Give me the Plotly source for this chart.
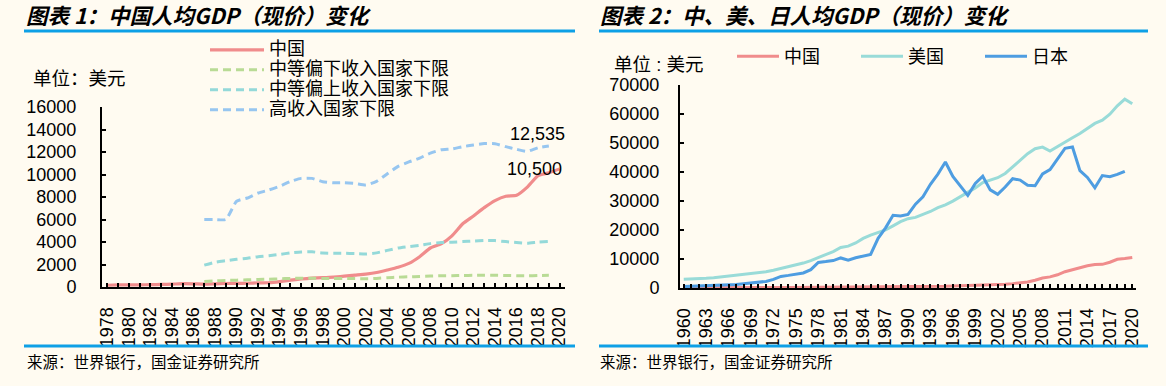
import plotly.graph_objects as go

# ---------------- data ----------------
years1 = list(range(1978, 2021))
china1 = [156, 184, 195, 197, 203, 225, 251, 294, 282, 252, 284, 311, 318, 333, 368, 377,
          473, 610, 709, 782, 829, 873, 959, 1053, 1149, 1289, 1509, 1753, 2099, 2694, 3468,
          3832, 4550, 5618, 6317, 7051, 7679, 8067, 8148, 8879, 9905, 10144, 10500]
thr_years = list(range(1987, 2020))
lower_mid = [480, 545, 580, 610, 635, 675, 695, 725, 765, 785, 785, 760, 755, 755, 745, 735,
             765, 825, 875, 905, 935, 975, 995, 1005, 1025, 1035, 1045, 1045, 1025, 1005, 995,
             1025, 1035]
upper_mid = [1940, 2200, 2335, 2465, 2555, 2695, 2785, 2895, 3035, 3115, 3125, 3030, 2995, 2995,
             2975, 2935, 3035, 3255, 3465, 3595, 3705, 3855, 3945, 3975, 4035, 4085, 4125, 4125,
             4035, 3955, 3895, 3995, 4045]
high_inc = [6000, 6000, 6000, 7620, 7910, 8355, 8625, 8955, 9385, 9655, 9655, 9360, 9265, 9265,
            9205, 9075, 9385, 10065, 10725, 11115, 11455, 11905, 12195, 12275, 12475, 12615,
            12745, 12735, 12475, 12235, 12055, 12375, 12535]

years2 = list(range(1960, 2021))
china2 = [90, 76, 70, 74, 85, 98, 104, 97, 91, 100, 113, 119, 132, 157, 160, 178, 165, 185,
          156, 184, 195, 197, 203, 225, 251, 294, 282, 252, 284, 311, 318, 333, 368, 377, 473,
          610, 709, 782, 829, 873, 959, 1053, 1149, 1289, 1509, 1753, 2099, 2694, 3468, 3832,
          4550, 5618, 6317, 7051, 7679, 8067, 8148, 8879, 9905, 10144, 10500]
usa2 = [3007, 3067, 3244, 3375, 3574, 3828, 4146, 4336, 4696, 5032, 5234, 5609, 6094, 6726,
        7226, 7801, 8592, 9453, 10565, 11674, 12575, 13976, 14434, 15544, 17121, 18237, 19071,
        20039, 21417, 22857, 23889, 24342, 25419, 26387, 27695, 28691, 29968, 31459, 32854,
        34515, 36330, 37134, 38023, 39497, 41712, 44115, 46299, 48050, 48570, 47195, 48651,
        50066, 51784, 53291, 55124, 56763, 57867, 59915, 62805, 65095, 63544]
japan2 = [479, 563, 634, 717, 835, 919, 1058, 1229, 1451, 1669, 2037, 2272, 2967, 3997, 4354,
          4659, 5198, 6335, 8821, 9105, 9463, 10361, 9578, 10425, 10984, 11585, 17112, 20745,
          25051, 24813, 25359, 28925, 31465, 35766, 39269, 43440, 38437, 35022, 31903, 36027,
          38532, 33846, 32289, 34808, 37689, 37218, 35434, 35275, 39339, 40855, 44508, 48168,
          48603, 40454, 38109, 34524, 38761, 38387, 39159, 40247, None]

names1 = ["中国", "中等偏下收入国家下限", "中等偏上收入国家下限", "高收入国家下限"]
names2 = ["中国", "美国", "日本"]
title1 = "图表 1：中国人均GDP（现价）变化"
title2 = "图表 2：中、美、日人均GDP（现价）变化"
source_txt = "来源：世界银行，国金证券研究所"
unit1 = "单位：美元"
unit2 = "单位 : 美元"

# ---------------- style ----------------
W, H = 1166, 386
BG = "#FFFBF1"
FONT = "Liberation Sans, Arial, Noto Sans CJK SC, sans-serif"
CJK = "Noto Sans CJK SC, sans-serif"
C_CN = "#F08C8C"
C_LM = "#B9DB95"
C_UM = "#94D9D9"
C_HI = "#97C6F0"
C_US = "#99DBD8"
C_JP = "#4E9DE1"
BLUE = "#0EA0E6"


def px(x):
    return x / W


def py(y):
    return 1 - y / H


def lname(s):
    return '<span style="font-size:18px">' + s + '</span>'


fig = go.Figure()

dash = "8px,5px"
fig.add_trace(go.Scatter(x=years1, y=china1, name=lname(names1[0]), mode="lines",
                         line=dict(color=C_CN, width=3.2, shape="spline", smoothing=0.5),
                         xaxis="x", yaxis="y", legend="legend"))
fig.add_trace(go.Scatter(x=thr_years, y=lower_mid, name=lname(names1[1]), mode="lines",
                         line=dict(color=C_LM, width=3, dash=dash, shape="spline", smoothing=0.5),
                         xaxis="x", yaxis="y", legend="legend"))
fig.add_trace(go.Scatter(x=thr_years, y=upper_mid, name=lname(names1[2]), mode="lines",
                         line=dict(color=C_UM, width=3, dash=dash, shape="spline", smoothing=0.5),
                         xaxis="x", yaxis="y", legend="legend"))
fig.add_trace(go.Scatter(x=thr_years, y=high_inc, name=lname(names1[3]), mode="lines",
                         line=dict(color=C_HI, width=3, dash=dash, shape="spline", smoothing=0.5),
                         xaxis="x", yaxis="y", legend="legend"))

fig.add_trace(go.Scatter(x=years2, y=china2, name=names2[0], mode="lines",
                         line=dict(color=C_CN, width=3), xaxis="x2", yaxis="y2", legend="legend2"))
fig.add_trace(go.Scatter(x=years2, y=usa2, name=names2[1], mode="lines",
                         line=dict(color=C_US, width=3), xaxis="x2", yaxis="y2", legend="legend2"))
fig.add_trace(go.Scatter(x=years2, y=japan2, name=names2[2], mode="lines",
                         line=dict(color=C_JP, width=3), xaxis="x2", yaxis="y2", legend="legend2"))

axis_common = dict(showline=True, linecolor="black", linewidth=2, showgrid=False,
                   zeroline=False, tickfont=dict(family=FONT, size=18, color="black"),
                   tickcolor="black")

fig.update_layout(
    width=W, height=H, autosize=False,
    margin=dict(l=0, r=0, t=0, b=0, pad=0, autoexpand=False),
    paper_bgcolor=BG, plot_bgcolor=BG,
    font=dict(family=FONT, color="black"),
    xaxis=dict(domain=[px(102), px(565)], range=[1977.5, 2020.5], anchor="y",
               tickmode="array", tickvals=years1[::2], ticktext=[str(v) for v in years1[::2]],
               tickangle=-90, ticks="inside", ticklen=4, tickwidth=1.5,
               minor=dict(dtick=1, tick0=1978, ticks="inside", ticklen=4, tickwidth=1.5,
                          tickcolor="black"),
               ticklabelstandoff=11, **axis_common),
    yaxis=dict(domain=[py(287), py(107)], range=[0, 16000], anchor="x",
               tickmode="linear", dtick=2000, tick0=0, tickformat="d", ticks="inside",
               ticklen=4, tickwidth=1.5, ticklabelstandoff=20, **axis_common),
    xaxis2=dict(domain=[px(680), px(1136)], range=[1959.5, 2020.5], anchor="y2",
                tickmode="array", tickvals=years2[::3], ticktext=[str(v) for v in years2[::3]],
                tickangle=-90, ticks="inside", ticklen=4, tickwidth=1.5,
                minor=dict(dtick=1, tick0=1960, ticks="inside", ticklen=4, tickwidth=1.5,
                           tickcolor="black"),
                ticklabelstandoff=11, **axis_common),
    yaxis2=dict(domain=[py(288), py(85)], range=[0, 70000], anchor="x2",
                tickmode="linear", dtick=10000, tick0=0, tickformat="d", ticks="inside",
                ticklen=4, tickwidth=1.5, ticklabelstandoff=15, **axis_common),
    legend=dict(x=px(205), y=py(35), xanchor="left", yanchor="top", orientation="v",
                bgcolor="rgba(0,0,0,0)", font=dict(family=FONT, size=13, color="black"),
                itemwidth=54, tracegroupgap=0),
    legend2=dict(x=px(732), y=py(38), xanchor="left", yanchor="top", orientation="h",
                 bgcolor="rgba(0,0,0,0)", font=dict(family=FONT, size=18, color="black"),
                 itemwidth=42, entrywidth=67, entrywidthmode="pixels"),
    showlegend=True,
)

shapes = []
for (x0, x1) in [(24, 575), (599, 1148)]:
    shapes.append(dict(type="line", xref="paper", yref="paper", x0=px(x0), x1=px(x1),
                       y0=py(31), y1=py(31), line=dict(color=BLUE, width=3)))
    shapes.append(dict(type="line", xref="paper", yref="paper", x0=px(x0), x1=px(x1),
                       y0=py(346), y1=py(346), line=dict(color=BLUE, width=3)))
fig.update_layout(shapes=shapes)

ann = []
ann.append(dict(x=px(24), y=py(14.5), xref="paper", yref="paper", text="<b><i>" + title1 + "</i></b>",
                showarrow=False, xanchor="left", yanchor="middle",
                font=dict(family=CJK, size=21.5, color="black")))
ann.append(dict(x=px(598), y=py(14.5), xref="paper", yref="paper", text="<b><i>" + title2 + "</i></b>",
                showarrow=False, xanchor="left", yanchor="middle",
                font=dict(family=CJK, size=21.5, color="black")))
ann.append(dict(x=px(31), y=py(78), xref="paper", yref="paper", text=unit1, showarrow=False,
                xanchor="left", yanchor="middle", font=dict(family=FONT, size=18.5, color="black")))
ann.append(dict(x=px(612), y=py(64), xref="paper", yref="paper", text=unit2, showarrow=False,
                xanchor="left", yanchor="middle", font=dict(family=FONT, size=18.5, color="black")))
for x0 in [25, 598]:
    ann.append(dict(x=px(x0), y=py(361), xref="paper", yref="paper", text=source_txt,
                    showarrow=False, xanchor="left", yanchor="middle",
                    font=dict(family=CJK, size=15.5, color="black")))
# end-of-series value labels
ann.append(dict(x=thr_years[-1], y=high_inc[-1], xref="x", yref="y",
                text=f"{high_inc[-1]:,}", showarrow=False, xanchor="center", yanchor="middle",
                xshift=-11, yshift=12, font=dict(family=FONT, size=18, color="black")))
ann.append(dict(x=years1[-1], y=china1[-1], xref="x", yref="y",
                text=f"{china1[-1]:,}", showarrow=False, xanchor="center", yanchor="middle",
                xshift=-25, yshift=0, font=dict(family=FONT, size=18, color="black")))
fig.update_layout(annotations=ann)

fig.write_html("out.html", config={"displayModeBar": False},
               post_script="document.body.style.margin='0';document.body.style.overflow='hidden';")
